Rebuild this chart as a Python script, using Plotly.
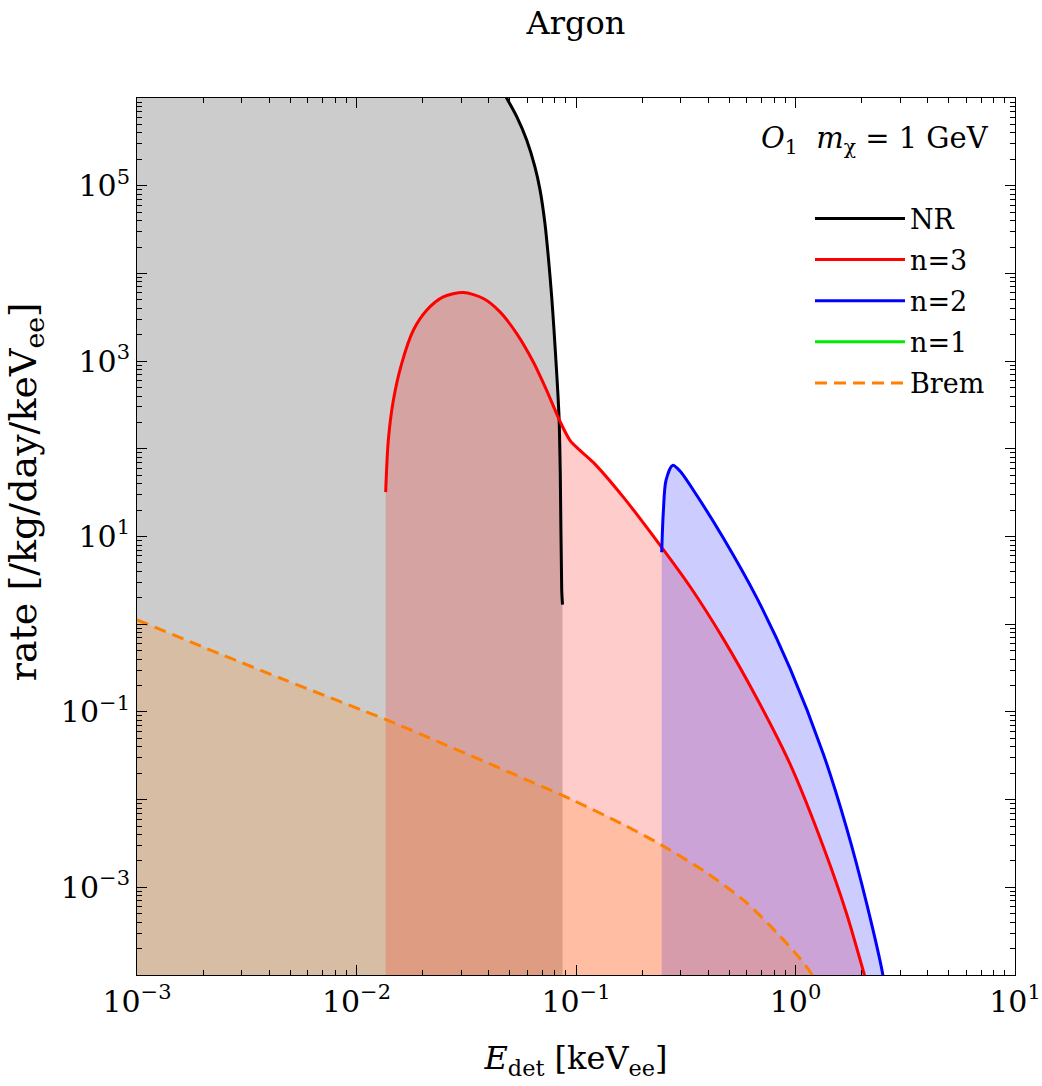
import plotly.graph_objects as go

# ---------------- data ----------------
nr_x = [0.0455, 0.0479, 0.0537, 0.0596, 0.0650, 0.0686, 0.0722, 0.0748, 0.0775,
        0.0794, 0.0817, 0.0837, 0.0848, 0.0861, 0.0868]
nr_y = [1.35e6, 1.04e6, 6.12e5, 3.32e5, 1.64e5, 8.9e4, 3.71e4, 1.54e4, 5400,
        2250, 720, 230, 52, 2.42, 1.67]

n3_x = [0.01358, 0.01396, 0.01472, 0.01606, 0.01815, 0.02088, 0.02484, 0.03066,
        0.03784, 0.04505, 0.0537, 0.0639, 0.0735, 0.0846, 0.0939, 0.1043, 0.1199,
        0.1643, 0.2457, 0.3307, 0.469, 0.6655, 0.944, 1.339, 1.711, 2.073, 2.30]
n3_y = [32.1, 125, 357, 936, 2248, 3800, 5390, 6050,
        5170, 3640, 2060, 977, 464, 205, 125, 95.9, 70,
        28.1, 7.53, 2.69, 0.68, 0.144, 0.0255, 0.0029, 4.97e-4, 9.5e-5, 3.8e-5]

n2_x = [0.2457, 0.2499, 0.2570, 0.2757, 0.2977, 0.3548, 0.469, 0.6655, 0.944,
        1.339, 1.711, 2.110, 2.512, 2.65]
n2_y = [6.62, 19.0, 43.7, 64.7, 55.8, 29.5, 9.61, 2.01, 0.314,
        0.0332, 0.0047, 6.5e-4, 9.4e-5, 3.0e-5]

n1_x = []
n1_y = []

brem_x = [0.001, 0.002388, 0.00481, 0.01374, 0.01946, 0.0686, 0.0972, 0.1643,
          0.2457, 0.394, 0.5995, 0.850, 1.048, 1.205, 1.35]
brem_y = [1.12, 0.458, 0.227, 0.0809, 0.056, 0.01445, 0.0098, 0.00519,
          0.00303, 0.00146, 6.65e-4, 2.77e-4, 1.54e-4, 9.4e-5, 3.0e-5]

x_ticks = [1e-3, 1e-2, 1e-1, 1e0, 1e1]
x_ticktext = ["10<sup>−3</sup>", "10<sup>−2</sup>", "10<sup>−1</sup>", "10<sup>0</sup>", "10<sup>1</sup>"]
y_exps = list(range(-4, 7))
y_ticks = [10.0 ** e for e in y_exps]
y_ticktext = [("10<sup>" + str(e).replace("-", "−") + "</sup>") if e % 2 != 0 else "" for e in y_exps]

x_minor = [m * 10.0 ** e for e in range(-3, 1) for m in range(2, 10)]
y_minor = [m * 10.0 ** e for e in range(-4, 6) for m in range(2, 10)]

X_MIN = 1e-3
Y_FLOOR = 1e-7

FONT = "DejaVu Serif"

fig = go.Figure()


def add_fill(fx, fy, color):
    # invisible baseline at the bottom, then the curve filled down to it
    fig.add_trace(go.Scatter(x=[fx[0], fx[-1]], y=[Y_FLOOR, Y_FLOOR], mode="lines",
                             line=dict(width=0), showlegend=False, hoverinfo="skip"))
    fig.add_trace(go.Scatter(x=fx, y=fy, mode="lines", fill="tonexty", fillcolor=color,
                             line=dict(width=0, shape="spline", smoothing=0.8),
                             showlegend=False, hoverinfo="skip"))


add_fill([X_MIN] + nr_x, [nr_y[0]] + nr_y, "rgba(0,0,0,0.2)")
add_fill(n3_x, n3_y, "rgba(255,0,0,0.2)")
add_fill(n2_x, n2_y, "rgba(0,0,255,0.2)")
add_fill(brem_x, brem_y, "rgba(255,128,0,0.2)")

# ---------------- lines ----------------
lines = [
    ("NR", nr_x, nr_y, "black", "solid"),
    ("n=3", n3_x, n3_y, "rgb(255,0,0)", "solid"),
    ("n=2", n2_x, n2_y, "rgb(0,0,255)", "solid"),
    ("n=1", n1_x if n1_x else [None], n1_y if n1_y else [None], "rgb(0,235,0)", "solid"),
    ("Brem", brem_x, brem_y, "rgb(255,128,0)", "12px,7px"),
]
for name, lx, ly, col, dash in lines:
    fig.add_trace(go.Scatter(x=lx, y=ly, mode="lines", name=name, legendgroup=name,
                             line=dict(color=col, width=3, dash=dash,
                                       shape="spline", smoothing=0.8)))

axis_common = dict(
    type="log", showline=True, linecolor="black", linewidth=1, mirror="allticks",
    ticks="inside", ticklen=10, tickwidth=1, tickcolor="black", showgrid=False,
    zeroline=False, tickmode="array", automargin=False,
    tickfont=dict(family=FONT, size=30, color="black"),
)

fig.update_xaxes(
    **axis_common, range=[-3, 1], tickvals=x_ticks, ticktext=x_ticktext,
    minor=dict(tickmode="array", tickvals=x_minor, ticks="inside", ticklen=5,
               tickcolor="black", showgrid=False),
    title=dict(text="<i>E</i><sub>det</sub> [keV<sub>ee</sub>]",
               font=dict(family=FONT, size=32, color="black"), standoff=28),
)
fig.update_yaxes(
    **axis_common, range=[-4, 6], tickvals=y_ticks, ticktext=y_ticktext,
    minor=dict(tickmode="array", tickvals=y_minor, ticks="inside", ticklen=5,
               tickcolor="black", showgrid=False),
)

# y-axis title (placed slightly above centre, as in the reference)
fig.add_annotation(
    text="rate [/kg/day/keV<sub>ee</sub>]", textangle=-90,
    xref="paper", yref="paper", x=-0.127, y=0.551, xanchor="center", yanchor="middle",
    showarrow=False, font=dict(family=FONT, size=38, color="black"),
)

fig.add_annotation(
    text="<i>O</i><sub>1</sub>  <i>m</i><sub>χ</sub> = 1 GeV",
    xref="paper", yref="paper", x=0.973, y=0.952, xanchor="right", yanchor="middle",
    showarrow=False, font=dict(family=FONT, size=29, color="black"),
)

fig.update_layout(
    width=1042, height=1086,
    margin=dict(l=137, r=27, t=98, b=111, autoexpand=False),
    paper_bgcolor="white", plot_bgcolor="white",
    title=dict(text="Argon", font=dict(family=FONT, size=32, color="black"),
               x=0.5, xref="paper", y=1 - 23 / 1086, yref="container",
               xanchor="center", yanchor="middle"),
    showlegend=True,
    legend=dict(x=0.7665, y=0.890, xanchor="left", yanchor="top",
                font=dict(family=FONT, size=27, color="black"),
                bgcolor="rgba(0,0,0,0)", tracegroupgap=3, itemwidth=90),
    font=dict(family=FONT, color="black"),
)

fig.write_html("out.html")
